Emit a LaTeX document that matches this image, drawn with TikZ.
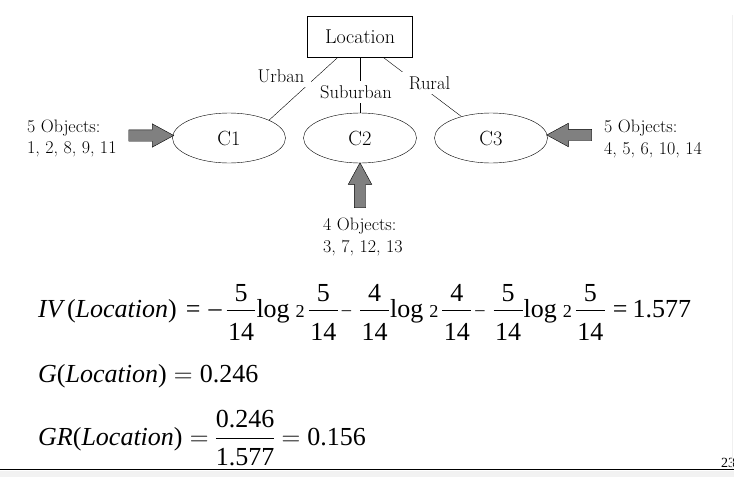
\RequirePackage{fix-cm}
\documentclass[tikz,border=0pt]{standalone}
\usepackage{amsmath}
\usepackage{fontspec}
\newfontfamily\eqfont{Liberation Serif}
\usetikzlibrary{shapes.geometric}
\usetikzlibrary{shapes.arrows}
\definecolor{ag}{RGB}{128,128,128}
\setlength{\nulldelimiterspace}{0pt}
\newcommand{\tx}[1]{\text{#1}}
% fraction as drawn by the equation editor: wide bar, low denominator
\newcommand{\fr}[2]{{\frac{\raisebox{-2.5pt}{\tx{#1}}}{\hspace{1.5pt}\rule{0pt}{27pt}\tx{#2}\hspace{1.5pt}}}}
\newcommand{\lgtwo}{\hspace{1pt}\tx{log}\hspace{6pt}{\scriptstyle\tx{2}}\hspace{4pt}}
\newcommand{\mn}{\hspace{4pt}\raisebox{1.5pt}{\tx{\fontsize{18.5}{20}\selectfont\char"2013}}\hspace{9pt}}

\begin{document}
\begin{tikzpicture}[
      x=1pt, y=-1pt,
      attr/.style={draw, minimum width=105pt, minimum height=41pt, inner sep=0pt,
                   font=\fontsize{20}{24}\selectfont},
      cl/.style={ellipse, draw, minimum width=113pt, minimum height=50pt, inner sep=0pt,
                 font=\fontsize{20.5}{24}\selectfont},
      val/.style={fill=white, inner xsep=7pt, inner ysep=4pt,
                  font=\fontsize{18.5}{22}\selectfont},
      objs/.style={align=left, inner sep=0pt, anchor=west,
                   font=\fontsize{18}{21.5}\selectfont},
      objarrow/.style={single arrow, draw, fill=ag, inner sep=5.5pt,
                       minimum height=45pt, single arrow head extend=6pt,
                       single arrow tip angle=57},
      eq/.style={anchor=base west, inner sep=0pt,
                 font=\eqfont\fontsize{26}{30}\selectfont}]
        \useasboundingbox (0,0) rectangle (734,477);

        \node[attr] (loc) at (360,36.5) {Location};

        \node[cl] (c1) at (229,138) {C1};
        \node[cl] (c2) at (360,138) {C2};
        \node[cl] (c3) at (491,138) {C3};

        \draw ([xshift=-22pt]loc.south) -- (c1.24);
        \draw (loc.south) -- (c2.north);
        \draw ([xshift=23pt]loc.south) -- (c3.144);

        % branch labels
        \node[val] (urban) at (281,76) {Urban};
        \node[val] (suburban) at (356,92) {Suburban};
        \node[val] (rural) at (429.5,83) {Rural};

        % objects sent to each cluster
        \node[objarrow] (a1) at (146,135.5) {};
        \node[objarrow, rotate=90] (a2) at (360,190.5) {};
        \node[objarrow, rotate=180] (a3) at (574.5,135) {};

        \node[objs] (o1) at (27,138.5) {5 Objects:\\1, 2, 8, 9, 11};
        \node[objs] (o2) at (323,237) {4 Objects:\\3, 7, 12, 13};
        \node[objs] (o3) at (604,139) {5 Objects:\\4, 5, 6, 10, 14};

        % formulas
        \node[eq] (iv) at (38,317) {$\displaystyle \textit{IV}\,\tx{(}\textit{Location}\tx{)}
          \hspace{9pt}\tx{=}\hspace{8pt}\raisebox{1pt}{\tx{\char"2013}}\hspace{5pt}
          \fr{5}{14}\lgtwo\fr{5}{14}\mn\fr{4}{14}\lgtwo\fr{4}{14}\mn\fr{5}{14}\lgtwo\fr{5}{14}
          \hspace{8pt}\tx{=}\hspace{5pt}\tx{1.577}$};
        \node[eq] (g) at (38,382) {$\textit{G}\tx{(}\textit{Location}\tx{)} = \tx{0.246}$};
        \node[eq] (gr) at (38,445) {$\displaystyle \textit{GR}\tx{(}\textit{Location}\tx{)}
          = \frac{\tx{0.246}}{\rule{0pt}{24pt}\tx{1.577}} = \tx{0.156}$};

        \node[anchor=base west, inner sep=0pt, font=\eqfont\fontsize{14}{16}\selectfont]
          (pg) at (721,467) {23};

        \draw[gray!12] (732.5,15) -- (732.5,469);
        \fill[gray!10] (0,470.5) rectangle (734,477);
        \draw[line width=1.5pt] (0,469.5) -- (734,469.5);

      \end{tikzpicture}
\end{document}
